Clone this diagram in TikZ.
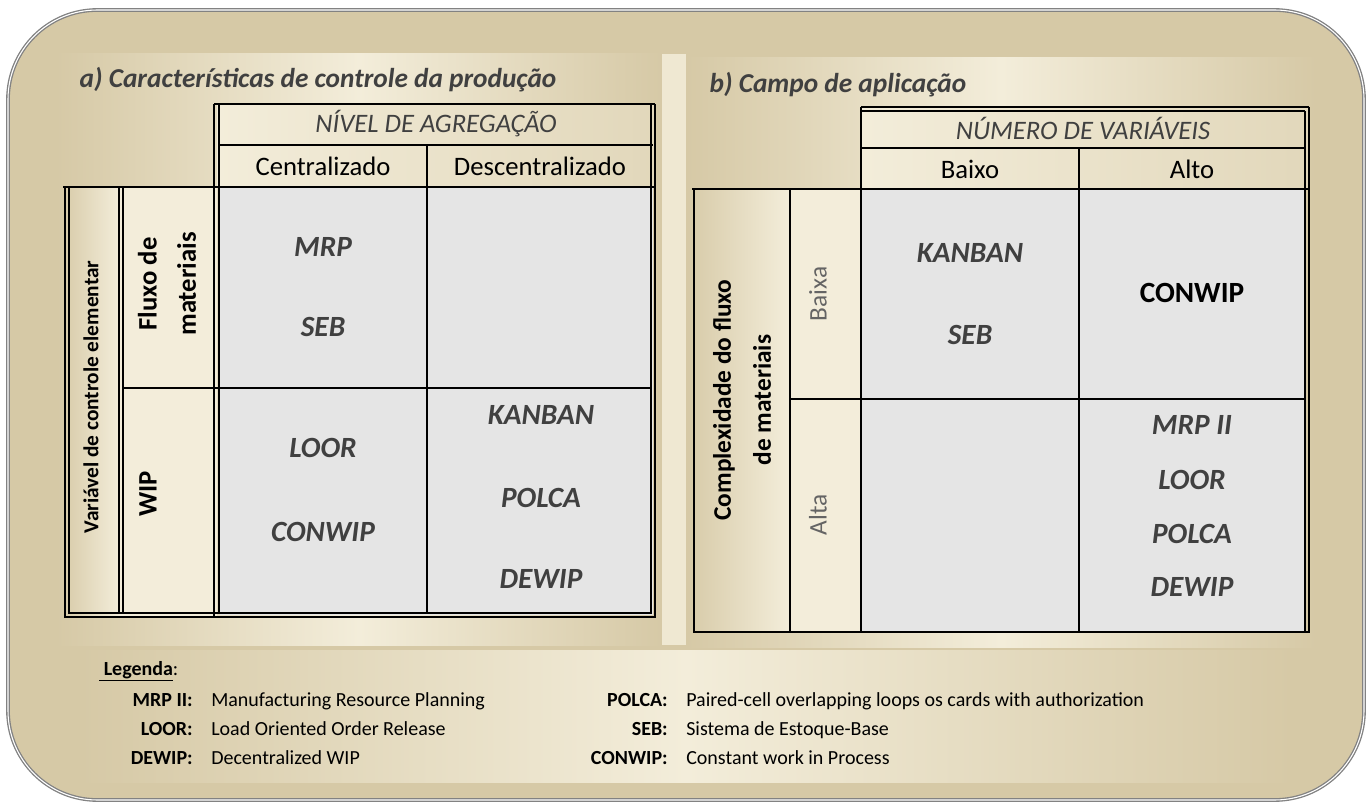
\documentclass[tikz,border=0pt]{standalone}
\usepackage{fontspec}
\setmainfont{Carlito}
\usepackage{tikz}
\definecolor{frametan}{RGB}{214,201,166}
\definecolor{cream}{RGB}{243,237,218}
\definecolor{cellgray}{RGB}{229,229,229}
\definecolor{inkgray}{RGB}{64,64,64}
\definecolor{midgray}{RGB}{100,100,100}
\definecolor{framegray}{RGB}{130,130,130}

\begin{document}
\begin{tikzpicture}[x=0.75pt,y=-0.75pt,
  panel/.style={left color=frametan,right color=frametan,middle color=cream},
  hdrfill/.style={left color=cream,right color=frametan!60!cream},
  sidefill/.style={left color=frametan!90!cream,right color=cream},
  thk/.style={line width=2pt},
  thn/.style={line width=1pt},
  ttl/.style={font=\fontsize{20.5}{24}\selectfont\bfseries\itshape,text=inkgray,anchor=base west},
  hdr/.style={font=\fontsize{20}{24}\selectfont},
  hdrcap/.style={font=\fontsize{20}{24}\selectfont\itshape,text=inkgray},
  sigla/.style={font=\fontsize{22}{26}\selectfont\bfseries\itshape,text=inkgray},
  rot/.style={rotate=90,align=center,font=\fontsize{20}{29.5}\selectfont\bfseries},
  lgkey/.style={font=\fontsize{15}{18}\selectfont\bfseries,anchor=base east,inner sep=0pt},
  lgtxt/.style={font=\fontsize{15}{18}\selectfont,anchor=base west,inner sep=0pt}]
\useasboundingbox (0,0) rectangle (1372,805);

% frame and panels
\fill[frametan,rounded corners=67pt] (8,10) rectangle (1364,800);
\shade[panel] (56,54) rectangle (662,645);
\fill[cream!85!frametan] (662,54) rectangle (686,645);
\shade[panel] (686,58) rectangle (1316,647);
\shade[panel] (80,650) rectangle (1292,782);
\draw[framegray,line width=1pt,double=white,double distance=0.8pt,rounded corners=67pt] (8,10) rectangle (1364,800);

\node[ttl] (titA) at (75,88) {a) Características de controle da produção};
\node[ttl] (titB) at (705,93) {b) Campo de aplicação};

% table a
\shade[hdrfill] (217,104) rectangle (655,187);
\shade[sidefill] (65,187) rectangle (120,617);
\fill[cream] (120,187) rectangle (217,617);
\fill[cellgray] (220,187) rectangle (653,615);
\draw[thk] (214,104) -- (655,104);
\draw[thk] (218,145) -- (653,145);
\draw[thk] (63,187) -- (655,187);
\draw[thk] (655,104) -- (655,617) -- (65,617) -- (65,187);
\draw[thn] (651,104) -- (651,613) -- (69,613) -- (69,187);
\draw[thn] (214,104) -- (214,617);
\draw[thk] (219,104) -- (219,613);
\draw[thn] (119,187) -- (119,613);
\draw[thn] (123,187) -- (123,613);
\draw[thn] (427,145) -- (427,613);
\draw[thn] (123,388) -- (651,388);

\node[hdrcap] (nivel) at (436,124) {NÍVEL DE AGREGAÇÃO};
\node[hdr] (centr) at (323,166) {Centralizado};
\node[hdr] (descentr) at (540,166) {Descentralizado};
\node[rot,font=\fontsize{16}{20}\selectfont\bfseries] (varctrl) at (91,397) {Variável de controle elementar};
\node[rot] (fluxo) at (167,284) {Fluxo de\\materiais};
\node[rot] (wip) at (148,494) {WIP};

\foreach \nm/\xx/\yy/\t in {aMRP/323/247/MRP, aSEB/323/327/SEB, aLOOR/323/448/LOOR,
  aCONWIP/323/532/CONWIP, aKANBAN/541/415/KANBAN, aPOLCA/541/498/POLCA, aDEWIP/541/579/DEWIP}
  \node[sigla] (\nm) at (\xx,\yy) {\t};

% table b
\shade[hdrfill] (861,107) rectangle (1309,189);
\shade[sidefill] (694,189) rectangle (790,632);
\fill[cream] (790,189) rectangle (861,632);
\fill[cellgray] (861,189) rectangle (1305,632);
\draw[thk] (861,107) -- (1309,107);
\draw[thn] (861,111) -- (1305,111);
\draw[thk] (861,148) -- (1305,148);
\draw[thk] (692,189) -- (1309,189);
\draw[thk] (1309,107) -- (1309,632) -- (694,632) -- (694,189);
\draw[thn] (1305,111) -- (1305,632);
\draw[thk] (790,189) -- (790,632);
\draw[thk] (861,107) -- (861,632);
\draw[thn] (1079,148) -- (1079,632);
\draw[thn] (790,399) -- (1305,399);

\node[hdrcap] (numvar) at (1083,128) {NÚMERO DE VARIÁVEIS};
\node[hdr] (baixo) at (970,169) {Baixo};
\node[hdr] (alto) at (1192,169) {Alto};
\node[rot,font=\fontsize{19}{30}\selectfont\bfseries] (complex) at (742,400) {Complexidade do fluxo\\de materiais};
\node[rot,font=\fontsize{19}{22}\selectfont,text=midgray] (baixa) at (818,294) {Baixa};
\node[rot,font=\fontsize{19}{22}\selectfont,text=midgray] (alta) at (818,515) {Alta};

\foreach \nm/\xx/\yy/\t in {bKANBAN/970/253/KANBAN, bSEB/970/335/SEB, bMRP/1192/425/MRP II,
  bLOOR/1192/480/LOOR, bPOLCA/1192/534/POLCA, bDEWIP/1192/587/DEWIP}
  \node[sigla] (\nm) at (\xx,\yy) {\t};
\node[sigla,font=\fontsize{22}{26}\selectfont\bfseries,text=black] (bCONWIP) at (1192,293) {CONWIP};

% legenda
\node[lgtxt] (legenda) at (99,675) {\underline{\textbf{\ Legenda}}:};
\foreach \nm/\xk/\yy/\k/\t in {lMRP/193/706/MRP II/Manufacturing Resource Planning,
  lLOOR/193/735/LOOR/Load Oriented Order Release, lDEWIP/193/764/DEWIP/Decentralized WIP,
  lPOLCA/668/706/POLCA/Paired-cell overlapping loops os cards with authorization,
  lSEB/668/735/SEB/Sistema de Estoque-Base, lCONWIP/668/764/CONWIP/Constant work in Process}
{
  \node[lgkey] (\nm) at (\xk,\yy) {\k:};
  \node[lgtxt] (\nm t) at (\xk+18,\yy) {\t};
}
\end{tikzpicture}
\end{document}
